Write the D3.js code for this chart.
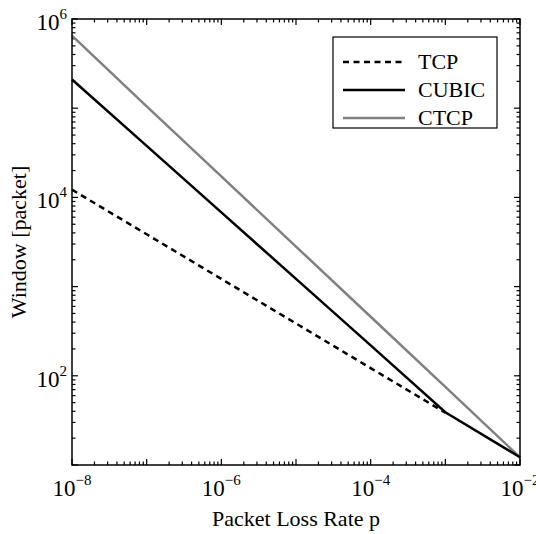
<!DOCTYPE html>
<html>
<head>
<script src="https://d3js.org/d3.v7.min.js"></script>
<style>
  body { margin: 0; background: #fff; }
  svg text { font-family: "Liberation Serif", "Times New Roman", serif; fill: #000; }
</style>
</head>
<body>
<div id="chart"></div>
<script>
// loss rate points (decades)
const lossRate = [1e-8, 1e-7, 1e-6, 1e-5, 1e-4, 1e-3, 1e-2];
// window values
const tcpWin   = [1.22e4, 3.86e3, 1.22e3, 386, 122, 38.6];
const cubicWin = [2.1e5, 3.78e4, 6.8e3, 1.22e3, 219, 39, 12.2];
const ctcpWin  = [6.5e5, 1.05e5, 1.72e4, 2.81e3, 459, 75, 12.2];
const xTickExp = [-8, -6, -4, -2];
const yTickExp = [2, 4, 6];
const legendNames = ["TCP", "CUBIC", "CTCP"];

const W = 536, H = 534;
const m = {left: 72, right: 16, top: 19, bottom: 69};

const svg = d3.select("#chart").append("svg")
    .attr("width", W).attr("height", H);

const x = d3.scaleLog().domain([1e-8, 1e-2]).range([m.left, W - m.right]);
const y = d3.scaleLog().domain([10, 1e6]).range([H - m.bottom, m.top]);

const x0 = x.range()[0], x1 = x.range()[1];
const y0 = y.range()[0], y1 = y.range()[1];

// ticks: major every decade, minor 2..9
function logTicks(lo, hi) {
    const out = [];
    for (let e = lo; e <= hi; e++) {
        out.push({v: Math.pow(10, e), major: true});
        if (e < hi) for (let k = 2; k <= 9; k++) out.push({v: k * Math.pow(10, e), major: false});
    }
    return out;
}
const xt = logTicks(-8, -2), yt = logTicks(1, 6);
const tk = svg.append("g").attr("stroke", "#000").attr("stroke-width", 1.2);
xt.forEach(t => {
    const px = x(t.v), L = t.major ? 6 : 3.5;
    tk.append("line").attr("x1", px).attr("x2", px).attr("y1", y0).attr("y2", y0 - L);
    tk.append("line").attr("x1", px).attr("x2", px).attr("y1", y1).attr("y2", y1 + L);
});
yt.forEach(t => {
    const py = y(t.v), L = t.major ? 6 : 3.5;
    tk.append("line").attr("y1", py).attr("y2", py).attr("x1", x0).attr("x2", x0 + L);
    tk.append("line").attr("y1", py).attr("y2", py).attr("x1", x1).attr("x2", x1 - L);
});

// lines
const line = d3.line().x(d => x(d[0])).y(d => y(d[1]));
const plot = svg.append("g");
plot.append("path").datum(d3.zip(lossRate, tcpWin)).attr("d", line)
    .attr("fill", "none").attr("stroke", "#000").attr("stroke-width", 2.5)
    .attr("stroke-dasharray", "6,4.5");
plot.append("path").datum(d3.zip(lossRate, ctcpWin)).attr("d", line)
    .attr("fill", "none").attr("stroke", "#808080").attr("stroke-width", 2.5);
plot.append("path").datum(d3.zip(lossRate, cubicWin)).attr("d", line)
    .attr("fill", "none").attr("stroke", "#000").attr("stroke-width", 2.5);

// frame
svg.append("rect").attr("x", x0).attr("y", y1).attr("width", x1 - x0).attr("height", y0 - y1)
    .attr("fill", "none").attr("stroke", "#000").attr("stroke-width", 1.5);

// tick labels
xTickExp.forEach(e => {
    const t = svg.append("text").attr("x", x(Math.pow(10, e))).attr("y", y0 + 31)
        .attr("text-anchor", "middle").attr("font-size", 23);
    t.append("tspan").text("10");
    t.append("tspan").attr("dy", -11).attr("font-size", 15).text("\u2212" + Math.abs(e));
});
yTickExp.forEach(e => {
    const t = svg.append("text").attr("x", x0 - 5).attr("y", y(Math.pow(10, e)) + 11)
        .attr("text-anchor", "end").attr("font-size", 23);
    t.append("tspan").text("10");
    t.append("tspan").attr("dy", -11).attr("font-size", 15).text(e);
});

// axis titles
svg.append("text").attr("x", (x0 + x1) / 2).attr("y", 526)
    .attr("text-anchor", "middle").attr("font-size", 22).text("Packet Loss Rate p");
svg.append("text").attr("transform", `translate(26,${(y0 + y1) / 2}) rotate(-90)`)
    .attr("text-anchor", "middle").attr("font-size", 22).text("Window [packet]");

// legend
const lg = svg.append("g").attr("transform", "translate(333,37)");
lg.append("rect").attr("width", 164).attr("height", 91)
    .attr("fill", "#fff").attr("stroke", "#000").attr("stroke-width", 1.2);
const styles = [
    {c: "#000", dash: "6,4.5"},
    {c: "#000", dash: null},
    {c: "#808080", dash: null}
];
legendNames.forEach((n, i) => {
    const yy = 25 + i * 28;
    lg.append("line").attr("x1", 10).attr("x2", 72).attr("y1", yy).attr("y2", yy)
        .attr("stroke", styles[i].c).attr("stroke-width", 2.5)
        .attr("stroke-dasharray", styles[i].dash);
    lg.append("text").attr("x", 85).attr("y", yy + 7).attr("font-size", 22).text(n);
});
</script>
</body>
</html>
